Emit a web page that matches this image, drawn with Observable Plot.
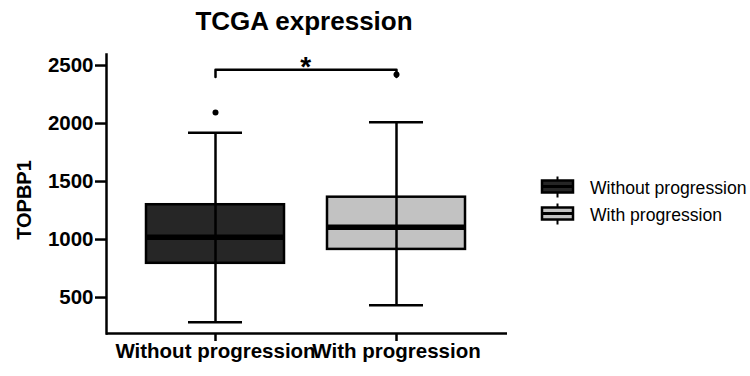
<!DOCTYPE html>
<html>
<head>
<meta charset="utf-8">
<script src="https://cdn.jsdelivr.net/npm/d3@7"></script>
<script src="https://cdn.jsdelivr.net/npm/@observablehq/plot@0.6"></script>
<style>
  body { margin: 0; background: #fff; font-family: "Liberation Sans", Arial, sans-serif; }
  #wrap { position: relative; width: 750px; height: 376px; overflow: hidden; background: #fff; }
  #title { position: absolute; left: 0; width: 608px; top: 8px; text-align: center;
           font-weight: bold; font-size: 26px; line-height: 26px; color: #000; }
  #chart { position: absolute; left: 0; top: 0; }
  #legend { position: absolute; left: 538px; top: 173px; }
  .item { display: flex; align-items: center; height: 27.5px; }
  .item svg { display: block; margin-right: 12px; }
  .item span { font-size: 17.6px; color: #000; line-height: 18px; position: relative; top: 1px; }
</style>
</head>
<body>
<div id="wrap">
  <div id="title">TCGA expression</div>
  <div id="chart"></div>
  <div id="legend"></div>
</div>
<script>
// ---- data ----
const categories   = ["Without progression", "With progression"];
const whiskerLow   = [287, 434];
const q1           = [795, 915];
const medians      = [1020, 1105];
const q3           = [1300, 1365];
const whiskerHigh  = [1920, 2012];
const fills        = ["#262626", "#c2c2c2"];
const outlierCategory = ["Without progression", "With progression"];
const outlierValue    = [2095, 2422];
const yTicks       = [500, 1000, 1500, 2000, 2500];
const bracketTop   = 2463;
const bracketDrop  = 2400;
const significance = "*";

const boxes = categories.map((c, i) => ({
  cat: c, lo: whiskerLow[i], q1: q1[i], med: medians[i], q3: q3[i], hi: whiskerHigh[i], fill: fills[i]
}));
const outliers = outlierCategory.map((c, i) => ({cat: c, v: outlierValue[i]}));
const bracket = [
  {cat: categories[0], v: bracketDrop},
  {cat: categories[0], v: bracketTop},
  {cat: categories[1], v: bracketTop},
  {cat: categories[1], v: bracketDrop}
];

const font = "Liberation Sans, Arial, sans-serif";
const lw = 2.5;

const chart = Plot.plot({
  width: 750,
  height: 376,
  marginLeft: 106,
  marginRight: 243,
  marginTop: 54,
  marginBottom: 43,
  style: {fontFamily: font, background: "transparent", overflow: "visible", color: "#000"},
  x: {domain: categories, range: [145.7, 465], paddingInner: 0.236, paddingOuter: 0, axis: null},
  y: {domain: [190, 2595], axis: null},
  color: {type: "identity"},
  marks: [
    Plot.ruleX(boxes, {x: "cat", y1: "lo", y2: "hi", stroke: "#000", strokeWidth: lw}),
    Plot.barY(boxes, {x: "cat", y1: "q1", y2: "q3", fill: "fill", stroke: "#000", strokeWidth: lw}),
    Plot.ruleX(boxes, {x: "cat", y1: "q1", y2: "q3", stroke: "#000", strokeWidth: lw}),
    Plot.tickY(boxes, {x: "cat", y: "med", stroke: "#000", strokeWidth: 5.5}),
    Plot.tickY(boxes, {x: "cat", y: "lo", stroke: "#000", strokeWidth: lw, insetLeft: 42, insetRight: 42}),
    Plot.tickY(boxes, {x: "cat", y: "hi", stroke: "#000", strokeWidth: lw, insetLeft: 42, insetRight: 42}),
    Plot.dot(outliers, {x: "cat", y: "v", r: 3, fill: "#000", stroke: null}),
    Plot.line(bracket, {x: "cat", y: "v", stroke: "#000", strokeWidth: lw, curve: "linear"}),
    Plot.text([significance], {x: [categories[0]], y: [bracketTop], text: d => d, dx: 90.3, dy: 6,
      lineAnchor: "bottom", fontSize: 28, fontWeight: "bold", fill: "#000"}),
    Plot.axisY({ticks: yTicks, tickFormat: d => String(d), tickSize: 11, tickPadding: 2,
      fontSize: 20.5, fontWeight: "bold", strokeWidth: lw, label: null, fill: "#000"}),
    Plot.axisX({tickSize: 8, tickPadding: 2, fontSize: 20.5, fontWeight: "bold",
      strokeWidth: lw, label: null, fill: "#000"}),
    Plot.ruleY([190], {stroke: "#000", strokeWidth: lw}),
    Plot.frame({anchor: "left", stroke: "#000", strokeWidth: lw}),
    Plot.text(["TOPBP1"], {frameAnchor: "left", text: d => d, rotate: -90, dx: -82, dy: 6,
      textAnchor: "middle", lineAnchor: "middle",
      fontSize: 20, fontWeight: "bold", fill: "#000"})
  ]
});
document.getElementById("chart").appendChild(chart);

// legend
const legend = document.getElementById("legend");
categories.forEach((c, i) => {
  const item = document.createElement("div");
  item.className = "item";
  item.innerHTML =
    `<svg width="40" height="24" viewBox="0 0 40 24">
       <line x1="19.5" x2="19.5" y1="1.5" y2="22.5" stroke="#000" stroke-width="2"/>
       <rect x="4" y="5.5" width="31" height="12" fill="${fills[i]}" stroke="#000" stroke-width="2.5"/>
       <line x1="4" x2="35" y1="11.5" y2="11.5" stroke="#000" stroke-width="3"/>
     </svg><span>${c}</span>`;
  legend.appendChild(item);
});
</script>
</body>
</html>
